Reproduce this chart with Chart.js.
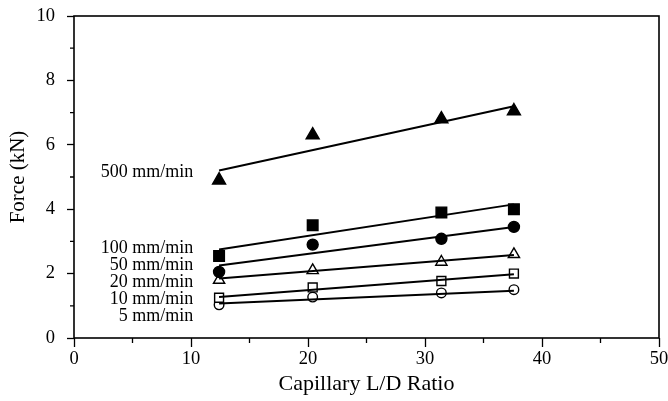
<!DOCTYPE html>
<html>
<head>
<meta charset="utf-8">
<script src="https://cdn.jsdelivr.net/npm/chart.js@4/dist/chart.umd.min.js"></script>
<style>
  html, body { margin: 0; padding: 0; background: #fff; }
  #wrap { width: 668px; height: 401px; }
</style>
</head>
<body>
<div id="wrap"><canvas id="force-chart"></canvas></div>
<script>
const ratios = [12.4, 20.4, 31.4, 37.6];
const rateLabels = ["500 mm/min", "100 mm/min", "50 mm/min", "20 mm/min", "10 mm/min", "5 mm/min"];
const force500 = [4.9, 6.3, 6.8, 7.05];
const force100 = [2.55, 3.5, 3.9, 4.0];
const force50 = [2.05, 2.9, 3.08, 3.45];
const force20 = [1.8, 2.1, 2.36, 2.6];
const force10 = [1.25, 1.57, 1.77, 2.0];
const force5 = [1.03, 1.27, 1.4, 1.5];
// end points of the fitted lines
const lineX = [12.4, 37.6];
const fit500 = [5.2, 7.2];
const fit100 = [2.75, 4.15];
const fit50 = [2.25, 3.45];
const fit20 = [1.85, 2.58];
const fit10 = [1.27, 1.98];
const fit5 = [1.07, 1.47];
// where the rate labels sit (right edge, in data units)
const labelX = 10.2;
const labelY = [5.15, 2.8, 2.27, 1.72, 1.19, 0.66];

const font = "'Liberation Serif', 'DejaVu Serif', serif";

function pts(ys, xs) {
  return ys.map((y, i) => ({ x: (xs || ratios)[i], y: y }));
}

function markers(ys, style, filled, r) {
  return {
    data: pts(ys),
    showLine: false,
    pointStyle: style,
    pointRadius: r,
    pointBorderWidth: 1.4,
    pointBorderColor: "#000",
    pointBackgroundColor: filled ? "#000" : "#fff",
  };
}

function fitLine(ys) {
  return {
    data: pts(ys, lineX),
    showLine: true,
    borderColor: "#000",
    borderWidth: 2,
    pointRadius: 0,
  };
}

const extras = {
  id: "extras",
  afterDraw(chart) {
    const ctx = chart.ctx;
    const a = chart.chartArea;
    const xs = chart.scales.x;
    const ys = chart.scales.y;
    ctx.save();
    ctx.strokeStyle = "#000";
    ctx.lineWidth = 1.6;
    ctx.strokeRect(a.left, a.top, a.right - a.left, a.bottom - a.top);
    // minor ticks
    ctx.lineWidth = 1.3;
    ctx.beginPath();
    for (let v = 1; v < 10; v += 2) {
      const y = ys.getPixelForValue(v);
      ctx.moveTo(a.left, y);
      ctx.lineTo(a.left - 4, y);
    }
    for (let v = 5; v < 50; v += 10) {
      const x = xs.getPixelForValue(v);
      ctx.moveTo(x, a.bottom);
      ctx.lineTo(x, a.bottom + 5);
    }
    ctx.stroke();
    // rate labels
    ctx.fillStyle = "#000";
    ctx.font = "18px " + font;
    ctx.textAlign = "right";
    ctx.textBaseline = "middle";
    rateLabels.forEach((t, i) => {
      ctx.fillText(t, xs.getPixelForValue(labelX), ys.getPixelForValue(labelY[i]));
    });
    ctx.restore();
  },
};

const ctx = document.getElementById("force-chart");
new Chart(ctx, {
  type: "scatter",
  data: {
    datasets: [
      fitLine(fit500),
      fitLine(fit100),
      fitLine(fit50),
      fitLine(fit20),
      fitLine(fit10),
      fitLine(fit5),
      markers(force500, "triangle", true, 7.5),
      markers(force100, "rect", true, 7.5),
      markers(force50, "circle", true, 5.5),
      markers(force20, "triangle", false, 6.5),
      markers(force10, "rect", false, 6.3),
      markers(force5, "circle", false, 4.8),
    ],
  },
  options: {
    responsive: true,
    maintainAspectRatio: false,
    animation: false,
    layout: { padding: { top: 16, right: 9, left: 0, bottom: 0 } },
    plugins: { legend: { display: false }, tooltip: { enabled: false } },
    scales: {
      x: {
        type: "linear",
        min: 0,
        max: 50,
        afterFit: (s) => { s.height = 63; s.paddingRight = 0; },
        border: { display: false },
        grid: {
          drawOnChartArea: false,
          tickLength: 9,
          tickWidth: 1.3,
          color: (c) => (c.tick && c.tick.value % 10 === 0 ? "#000" : "rgba(0,0,0,0)"),
        },
        ticks: {
          stepSize: 5,
          padding: 1,
          color: "#000",
          font: { family: font, size: 18.5 },
          callback: (v) => (v % 10 === 0 ? v : ""),
          maxRotation: 0,
        },
        title: {
          display: true,
          text: "Capillary L/D Ratio",
          color: "#000",
          font: { family: font, size: 22 },
          padding: { top: 2 },
        },
      },
      y: {
        min: 0,
        max: 10,
        afterFit: (s) => { s.width = 74; s.paddingTop = 0; },
        border: { display: false },
        grid: {
          drawOnChartArea: false,
          tickLength: 7,
          tickWidth: 1.3,
          color: (c) => (c.tick && c.tick.value % 2 === 0 ? "#000" : "rgba(0,0,0,0)"),
        },
        ticks: {
          stepSize: 1,
          padding: 12,
          color: "#000",
          font: { family: font, size: 18.5 },
          callback: (v) => (v % 2 === 0 ? v : ""),
        },
        title: {
          display: true,
          text: "Force (kN)",
          color: "#000",
          font: { family: font, size: 21 },
          padding: { top: 6, bottom: 0 },
        },
      },
    },
  },
  plugins: [extras],
});
</script>
</body>
</html>
